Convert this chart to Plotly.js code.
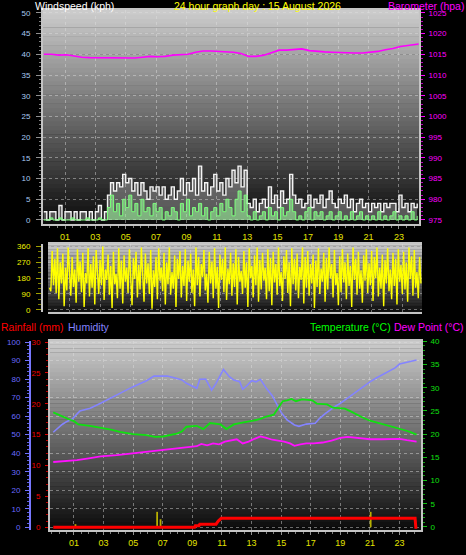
<!DOCTYPE html>
<html><head><meta charset="utf-8">
<script src="https://cdn.plot.ly/plotly-3.0.1.min.js"></script>
<style>html,body{margin:0;padding:0;background:#000;}#chart{width:466px;height:555px;}</style>
</head><body><div id="chart"></div>
<script>
// ---------- DATA ----------
var hourTicks = [1,3,5,7,9,11,13,15,17,19,21,23];
var hourLabels = ['01','03','05','07','09','11','13','15','17','19','21','23'];

// wind samples every 0.2 h starting at -0.4 h
var windStart = -0.4, windStep = 0.2;
var windGust = [2,0,2,2,0,3.5,0,2,2,0,2,0,2,2,0,2,0,2,3.5,0,2,
  6,9,7,9,8,11,9,10,7,9,6,9,7,5,8,7,8,6,8,5,6,8,5,7,10,6,9,7,10,6,13,7,9,6,8,11,7,9,6,10,8,12,9,13,8,12,
  4,3,5,2,4,5,3,8,4,6,3,7,4,5,11,6,4,5,3,4,6,3,5,4,6,3,5,7,4,3,5,4,6,3,5,2,4,5,3,4,2,4,3,4,2,4,3,4,4,2,6,3,4,2,4,3,4];
var windSpeed = [0,0,0.5,0,0,0.5,0,0,0,0.5,0,0,0,0,0.5,0,0,0,0.5,0,0,
  3,6,2,4,1,5,3,6,2,4,1,5,2,3,1,4,2,3,0,2,1,3,2,0,4,2,5,1,3,2,4,1,3,0,2,3,1,4,2,5,3,1,5,7,2,6,
  1,0,2,0,1,2,0,3,1,2,0,3,1,2,5,2,0,1,0,2,3,0,2,1,2,0,1,2,0,1,2,0,1,0,2,0,1,2,0,1,0,1,0,2,0,1,0,1,2,0,1,0,1,0,2,0,1];

var baroHours = [-0.4,0.1,0.6,1.1,1.6,2.1,2.6,3.1,3.6,4.1,4.6,5.1,5.6,6.1,6.6,7.1,7.6,8.1,8.6,9.1,9.6,10.1,10.6,11.1,11.6,12.1,12.6,13.1,13.6,14.1,14.6,15.1,15.6,16.1,16.6,17.1,17.6,18.1,18.6,19.1,19.6,20.1,20.6,21.1,21.6,22.1,22.6,23.1,23.6,24.1,24.3];
var baro = [1015.0,1015.0,1014.8,1014.9,1014.6,1014.3,1014.2,1014.2,1014.1,1014.2,1014.1,1014.2,1014.1,1014.3,1014.5,1014.4,1014.5,1014.8,1014.9,1015.0,1015.5,1015.8,1015.8,1015.7,1015.5,1015.5,1015.2,1014.5,1014.5,1014.8,1015.4,1016.0,1016.0,1016.1,1016.3,1015.9,1015.7,1015.6,1015.5,1015.4,1015.3,1015.3,1015.3,1015.5,1015.7,1016.1,1016.4,1016.9,1017.2,1017.5,1017.5];

// wind direction samples, evenly spread from -0.35 h to 24.25 h
var dirStart = -0.35, dirEnd = 24.25;
var windDir = [125,105,335,140,290,95,350,60,270,150,320,20,240,110,355,180,80,300,130,230,
40,345,160,275,100,325,15,210,150,350,75,260,125,305,30,340,190,90,285,140,
360,55,230,170,315,85,250,10,330,145,205,65,350,120,280,35,310,160,240,95,
345,140,25,295,175,330,70,255,115,355,200,45,320,150,265,90,340,5,225,130,
300,60,350,165,240,105,325,30,270,145,355,85,215,120,310,15,290,175,335,70,
250,135,345,50,280,160,320,95,230,20,355,140,300,75,260,185,340,110,205,40,
330,150,275,65,350,120,245,10,315,170,290,100,355,55,235,145,325,80,265,130,
345,30,300,160,220,90,335,125,270,15,350,180,250,70,310,140,355,45,285,115,
325,165,240,60,345,105,295,25,330,155,260,85,355,135,215,50,305,175,340,95,
270,20,350,145,290,110,320,65,245,170,355,35,300,125,335,80,260,150,315,10,
280,130,350,90,235,160,325,45,295,115,355,180,260,70,340,140,210,25,305,100,
345,155,270,60,320,135,250,15,355,170,290,85,330,120,225,40,310,165,345,95,
265,140,335,50,300,180,355,75,240,120,315,20,285,150,350,105,230,60,325,135,
290,30,345,160,255,90,330,115,270,45,355,175,305,80,340,125,215,65,300,150];
var dirTicks = [0,90,180,270,360];
var dirCompass = ['N','E','S','W','N'];

var humHours = [-0.4,0.0,0.2,0.5,0.9,1.4,1.8,2.1,2.8,3.3,3.9,4.4,5.0,5.5,5.9,6.4,6.9,7.3,7.9,8.3,8.6,9.0,9.3,9.5,9.9,10.3,10.6,11.1,11.5,11.8,12.2,12.4,12.7,13.0,13.3,13.6,14.0,14.4,14.7,15.0,15.4,15.7,15.9,16.2,16.7,17.3,17.6,18.0,18.3,18.7,19.0,19.6,20.0,20.5,21.0,21.4,21.9,22.3,22.7,23.0,23.4,23.7,24.15];
var humidity = [51.3,54,55.5,57,58.5,62.8,63.5,64.2,66.9,69,71.8,73.5,75.9,77.5,79.1,81.6,81.8,81.6,80.4,79.5,77.7,76,75,79.9,80,74,77.7,85.2,81.3,79.5,78.6,74.5,76.5,79.1,78.5,79.9,75,71,66.9,62,57.9,56,55.2,54.5,55.7,56.1,58.8,61.5,63.3,65.5,66.9,70.5,72.5,75.9,78.5,80.4,82.5,84,86,88.1,89,89.7,90.3];

var tempHours = [-0.4,0.05,0.4,0.73,1.0,1.3,2.08,2.98,3.5,4.1,5.0,5.9,6.47,7.03,7.5,7.94,8.3,8.6,9.29,9.74,10.2,10.9,11.3,11.8,12.2,12.6,13.1,13.6,14.0,14.5,14.8,15.1,15.4,15.7,16.0,16.4,16.8,17.1,17.4,18.1,18.5,19.3,19.7,20.1,20.5,21.0,21.5,21.9,22.4,22.8,23.3,23.7,24.15];
var temperature = [24.7,24.0,23.5,23.1,22.8,22.1,21.8,21.3,21.0,20.5,20.0,19.8,19.4,19.5,19.8,20.1,20.6,21.6,21.8,21.1,22.4,22.1,21.1,22.1,22.4,22.6,22.9,23.3,23.8,24.2,25.7,27.1,27.3,27.6,27.1,27.5,27.4,27.3,26.6,26.4,25.7,25.5,24.9,24.2,23.6,22.9,22.5,22.1,21.7,21.3,20.9,20.5,19.9];

var dewHours = [-0.4,0.5,1.2,2.0,2.8,3.9,5.0,5.9,7.0,7.9,8.6,9.3,9.6,10.0,10.4,10.8,11.2,11.6,12.0,12.4,12.8,13.2,13.6,14.0,14.4,14.8,15.2,15.6,15.9,16.3,16.7,17.2,17.8,18.4,19.0,19.5,20.2,21.0,21.8,22.5,23.0,23.5,24.15];
var dewPoint = [14.0,14.2,14.4,14.8,15.2,15.5,15.9,16.3,16.7,16.9,17.2,17.4,17.9,17.6,18.0,17.8,18.4,18.6,18.9,18.0,18.4,19.0,19.5,19.2,18.8,18.6,18.4,18.0,17.5,17.8,18.0,18.0,18.2,18.6,19.2,19.4,19.2,18.9,18.9,19.0,19.0,18.7,18.4];

var rainHours = [-0.4,9.15,9.2,9.45,9.5,10.6,10.75,10.95,24.05,24.1,24.2];
var rainfall = [0,0,0.25,0.25,0.5,0.5,1.0,1.45,1.45,0,0];
var rateHours = [1.1,6.62,6.85,21.05];
var rainRate = [0.5,2.5,1.3,2.5];

// ---------- BUILD ----------
var W = 466, H = 555;
function fx(px){return px/W;}
function fy(px){return 1-px/H;}
var windHours = windGust.map(function(_,i){return windStart + i*windStep;});
var dirHours = windDir.map(function(_,i){return dirStart + i*(dirEnd-dirStart)/(windDir.length-1);});

var FONT = 'Liberation Sans, Arial, sans-serif';
var GRID = 'rgba(225,225,225,0.45)';
var BORDER = '#c4c4c4';

var traces = [
  {x:windHours, y:windGust, xaxis:'x', yaxis:'y', type:'scatter', mode:'lines', line:{color:'#f4f4f4', width:1.4, shape:'hv'}, fill:'tozeroy', fillcolor:'rgba(215,215,215,0.35)'},
  {x:windHours, y:windSpeed, xaxis:'x', yaxis:'y', type:'scatter', mode:'lines', line:{color:'#7cff7c', width:1, shape:'hv'}, fill:'tozeroy', fillcolor:'rgba(160,255,160,0.55)'},
  {x:baroHours, y:baro, xaxis:'x', yaxis:'y2', type:'scatter', mode:'lines', line:{color:'#ff00ff', width:1.6}},
  {x:dirHours, y:windDir, xaxis:'x2', yaxis:'y3', type:'scatter', mode:'lines', line:{color:'#ffff00', width:1.4}},
  {x:rateHours, y:rainRate, xaxis:'x3', yaxis:'y5', type:'bar', width:0.12, marker:{color:'#b8b000', line:{width:0}}},
  {x:rainHours, y:rainfall, xaxis:'x3', yaxis:'y5', type:'scatter', mode:'lines', line:{color:'#ff0000', width:3}},
  {x:humHours, y:humidity, xaxis:'x3', yaxis:'y6', type:'scatter', mode:'lines', line:{color:'#8484ff', width:1.6}},
  {x:tempHours, y:temperature, xaxis:'x3', yaxis:'y7', type:'scatter', mode:'lines', line:{color:'#10e010', width:1.8}},
  {x:dewHours, y:dewPoint, xaxis:'x3', yaxis:'y7', type:'scatter', mode:'lines', line:{color:'#ff10ff', width:1.8}}
];

// gradient background bands
var shapes = [];
function bands(xr, yr, top, bottom){
  var n = 48;
  for (var k=0;k<n;k++){
    var t = (k+0.5)/n;
    var v = Math.round(bottom + (top-bottom)*t);
    shapes.push({type:'rect', xref:xr, yref:yr, x0:0, x1:1, y0:k/n, y1:(k+1)/n+0.002, layer:'below', line:{width:0}, fillcolor:'rgb('+v+','+v+','+v+')'});
  }
}
bands('x domain','y domain',205,10);
bands('x2 domain','y3 domain',205,15);
bands('x3 domain','y5 domain',205,10);

function xAxis(domain, range, anchor, labels){
  return {domain:domain, range:range, anchor:anchor, tickmode:'array', tickvals:hourTicks, ticktext:hourLabels,
    showticklabels:labels, tickfont:{color:'#e4e400', size:9, family:FONT},
    ticks:labels?'outside':'', ticklen:3, tickcolor:'#909090',
    minor: labels ? {ticks:'outside', dtick:0.5, tick0:0, ticklen:2, tickcolor:'#808080', showgrid:false} : undefined,
    showgrid:true, gridcolor:GRID, griddash:'dot', gridwidth:1,
    showline:true, linecolor:BORDER, linewidth:2, mirror:true, zeroline:false, fixedrange:true};
}

var TS = 10.5;
var layout = {
  width:W, height:H, margin:{l:0,r:0,t:0,b:0}, paper_bgcolor:'#000', plot_bgcolor:'#000',
  showlegend:false, font:{family:FONT}, barmode:'overlay',
  xaxis: xAxis([fx(43),fx(419)], [-0.45,24.32], 'y', true),
  yaxis: {domain:[fy(224),fy(10)], range:[-0.97,50.7], tick0:0, dtick:5, tickfont:{color:'#a8c8f0', size:8, family:FONT},
    ticks:'outside', ticklen:5, tickcolor:'#909090', ticklabelstandoff:4,
    minor:{ticks:'outside', dtick:1, ticklen:2, tickcolor:'#808080', showgrid:false},
    showgrid:true, gridcolor:GRID, griddash:'dot', showline:true, linecolor:BORDER, linewidth:2, zeroline:false},
  yaxis2: {overlaying:'y', side:'right', anchor:'x', range:[974.03,1025.7], tick0:975, dtick:5,
    tickfont:{color:'#ff00ff', size:8, family:FONT}, ticks:'outside', ticklen:4, tickcolor:'#ff00ff', ticklabelstandoff:2,
    minor:{ticks:'outside', dtick:1, ticklen:2, tickcolor:'#c000c0', showgrid:false},
    showgrid:false, showline:true, linecolor:BORDER, linewidth:2, zeroline:false},
  xaxis2: xAxis([fx(48),fx(422)], [-0.45,24.32], 'y3', false),
  yaxis3: {domain:[fy(312),fy(244)], range:[-13,375], tickmode:'array', tickvals:dirTicks,
    tickfont:{color:'#f0f000', size:8, family:FONT}, ticks:'outside', ticklen:5, tickcolor:'#a0a000', ticklabelstandoff:4,
    minor:{ticks:'outside', dtick:30, ticklen:3, tickcolor:'#808000', showgrid:false},
    showgrid:true, gridcolor:GRID, griddash:'dot', showline:true, linecolor:BORDER, linewidth:2, zeroline:false},
  yaxis4: {overlaying:'y3', side:'right', anchor:'x2', range:[-13,375], tickmode:'array', tickvals:dirTicks, ticktext:dirCompass,
    tickfont:{color:'#f0f000', size:13, family:FONT}, ticks:'', ticklabelstandoff:10, showgrid:false, showline:false, zeroline:false},
  xaxis3: xAxis([fx(50),fx(421)], [-0.62,24.45], 'y5', true),
  yaxis5: {domain:[fy(530),fy(340.7)], range:[-0.44,30.21], tick0:0, dtick:5, anchor:'x3',
    tickfont:{color:'#f00000', size:8, family:FONT}, ticks:'outside', ticklen:3, tickcolor:'#e00000', ticklabelstandoff:3,
    minor:{ticks:'outside', dtick:1, ticklen:2, tickcolor:'#c00000', showgrid:false},
    showgrid:false, showline:true, linecolor:BORDER, linewidth:2, zeroline:false},
  yaxis6: {overlaying:'y5', anchor:'free', position:fx(30), side:'left', range:[-1.46,100.7], tick0:0, dtick:10,
    tickfont:{color:'#6a6aff', size:8, family:FONT}, ticks:'outside', ticklen:4, tickcolor:'#7070ff', ticklabelstandoff:3,
    minor:{ticks:'outside', dtick:2, ticklen:2, tickcolor:'#6060e0', showgrid:false},
    showgrid:true, gridcolor:GRID, griddash:'dot', showline:true, linecolor:'#7878ff', linewidth:2, zeroline:false},
  yaxis7: {overlaying:'y5', side:'right', anchor:'x3', range:[-0.65,40.14], tick0:0, dtick:5,
    tickfont:{color:'#10e010', size:8, family:FONT}, ticks:'outside', ticklen:4, tickcolor:'#10c010', ticklabelstandoff:2,
    minor:{ticks:'outside', dtick:1, ticklen:2, tickcolor:'#10a010', showgrid:false},
    showgrid:false, showline:true, linecolor:BORDER, linewidth:2, zeroline:false},
  shapes: shapes,
  annotations: [
    {text:'Windspeed (kph)', xref:'paper', yref:'paper', x:fx(34), y:fy(6.5), xanchor:'left', yanchor:'middle', showarrow:false, borderpad:0, font:{color:'#ffffff', size:TS, family:FONT}},
    {text:'24 hour graph day : 15 August 2026', xref:'paper', yref:'paper', x:fx(257), y:fy(6.5), xanchor:'center', yanchor:'middle', showarrow:false, borderpad:0, font:{color:'#ffff00', size:TS, family:FONT}},
    {text:'Barometer (hpa)', xref:'paper', yref:'paper', x:fx(465), y:fy(6.5), xanchor:'right', yanchor:'middle', showarrow:false, borderpad:0, font:{color:'#ff00ff', size:TS, family:FONT}},
    {text:'Rainfall (mm)', xref:'paper', yref:'paper', x:fx(0), y:fy(327), xanchor:'left', yanchor:'middle', showarrow:false, borderpad:0, font:{color:'#ff0000', size:TS, family:FONT}},
    {text:'Humidity', xref:'paper', yref:'paper', x:fx(67), y:fy(327), xanchor:'left', yanchor:'middle', showarrow:false, borderpad:0, font:{color:'#8484ff', size:TS, family:FONT}},
    {text:'Temperature (°C)', xref:'paper', yref:'paper', x:fx(392), y:fy(327), xanchor:'right', yanchor:'middle', showarrow:false, borderpad:0, font:{color:'#00ff00', size:TS, family:FONT}},
    {text:'Dew Point (°C)', xref:'paper', yref:'paper', x:fx(465), y:fy(327), xanchor:'right', yanchor:'middle', showarrow:false, borderpad:0, font:{color:'#ff00ff', size:TS, family:FONT}}
  ]
};

Plotly.newPlot('chart', traces, layout, {displayModeBar:false, staticPlot:true});
</script></body></html>
